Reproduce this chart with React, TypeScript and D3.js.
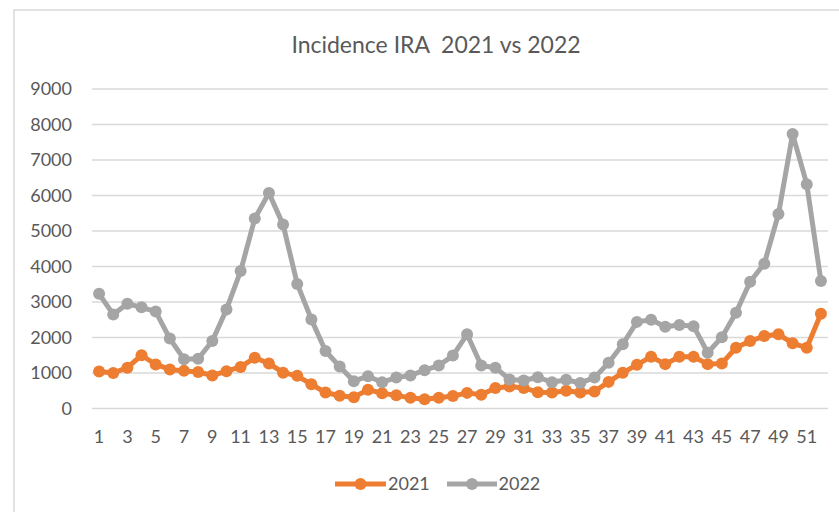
import React from "react";
import * as d3 from "d3";

const weeks: number[] = d3.range(1, 53);
const tickWeeks: number[] = d3.range(1, 53, 2);
const yTicks: number[] = [0, 1000, 2000, 3000, 4000, 5000, 6000, 7000, 8000, 9000];

const series2021: number[] = [
  1040, 1000, 1150, 1500, 1240, 1100, 1060, 1030, 930, 1050,
  1170, 1430, 1270, 1010, 920, 680, 450, 360, 320, 530,
  430, 370, 300, 260, 300, 350, 440, 390, 580, 620,
  580, 460, 450, 500, 450, 480, 750, 1010, 1230, 1460,
  1250, 1460, 1460, 1250, 1270, 1710, 1900, 2040, 2090, 1840,
  1710, 2670,
];

const series2022: number[] = [
  3230, 2650, 2950, 2850, 2730, 1970, 1390, 1400, 1900, 2790,
  3870, 5350, 6070, 5180, 3510, 2510, 1620, 1180, 770, 910,
  740, 870, 930, 1080, 1210, 1490, 2090, 1210, 1150, 820,
  790, 880, 740, 810, 720, 870, 1290, 1810, 2440, 2500,
  2300, 2350, 2320, 1570, 2010, 2700, 3570, 4080, 5480, 7730,
  6320, 3590,
];

const seriesNames: string[] = ["2021", "2022"];
const seriesColors: string[] = ["#ED7D31", "#A5A5A5"];
const titleText = "Incidence IRA  2021 vs 2022";

const W = 839;
const H = 512;
const FONT = "Lato, 'Open Sans', sans-serif";
const TEXT = "#595959";
const GRID = "#D9D9D9";

export default function App() {
  const plotLeft = 92;
  const plotRight = 828;
  const x = d3
    .scaleBand<number>()
    .domain(weeks)
    .range([plotLeft, plotRight])
    .padding(0);
  const cx = (w: number) => (x(w) as number) + x.bandwidth() / 2;
  const y = d3.scaleLinear().domain([0, 9000]).range([408.5, 89]);

  const line = d3
    .line<number>()
    .x((_, i) => cx(weeks[i]))
    .y((v) => y(v));

  const all = [series2021, series2022];

  const legendY = 484;
  const legendItems = [
    { x0: 335, x1: 386, tx: 388, name: seriesNames[0], color: seriesColors[0] },
    { x0: 447, x1: 497, tx: 498.5, name: seriesNames[1], color: seriesColors[1] },
  ];

  return (
    <div style={{ position: "fixed", left: 0, top: 0, width: W, height: H, background: "#fff" }}>
      <svg width={W} height={H} style={{ display: "block" }} fontFamily={FONT}>
        <rect x={0} y={0} width={W} height={H} fill="#fff" />
        <rect x={14} y={10} width={W + 20} height={H + 20} fill="none" stroke={GRID} strokeWidth={1.5} />
        <text x={436} y={53} textAnchor="middle" fontSize={23} fill={TEXT} style={{ whiteSpace: "pre" }}>
          {titleText}
        </text>
        {yTicks.map((t) => (
          <g key={t}>
            <line x1={plotLeft} x2={plotRight} y1={y(t)} y2={y(t)} stroke={GRID} strokeWidth={1.5} />
            <text x={72} y={y(t)} dy="0.35em" textAnchor="end" fontSize={18} fill={TEXT}>
              {t}
            </text>
          </g>
        ))}
        {tickWeeks.map((w) => (
          <text key={w} x={cx(w)} y={443} textAnchor="middle" fontSize={18} fill={TEXT}>
            {w}
          </text>
        ))}
        {all.map((s, si) => (
          <g key={si}>
            <path d={line(s) || ""} fill="none" stroke={seriesColors[si]} strokeWidth={5} strokeLinejoin="round" />
            {s.map((v, i) => (
              <circle key={i} cx={cx(weeks[i])} cy={y(v)} r={6} fill={seriesColors[si]} />
            ))}
          </g>
        ))}
        {legendItems.map((it) => (
          <g key={it.name}>
            <line x1={it.x0} x2={it.x1} y1={legendY} y2={legendY} stroke={it.color} strokeWidth={5} />
            <circle cx={(it.x0 + it.x1) / 2} cy={legendY} r={6} fill={it.color} />
            <text x={it.tx} y={legendY} dy="0.35em" fontSize={18} fill={TEXT}>
              {it.name}
            </text>
          </g>
        ))}
      </svg>
    </div>
  );
}
